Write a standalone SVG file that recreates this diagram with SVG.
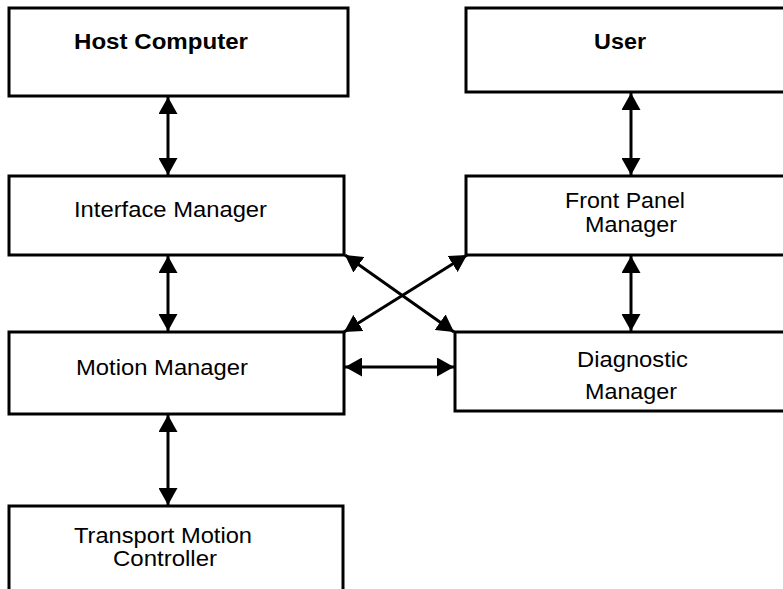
<svg xmlns="http://www.w3.org/2000/svg" width="783" height="589" viewBox="0 0 783 589">
<style>
.box{fill:#fff;stroke:#000;stroke-width:3}
.t{font-family:"Liberation Sans",Arial,sans-serif;font-size:22px;fill:#000}
.b{font-weight:bold}
.c{stroke:#000;stroke-width:3;fill:none;marker-start:url(#ah);marker-end:url(#ah)}
</style>
<defs>
<marker id="ah" viewBox="0 0 17 19" refX="17" refY="9.5" markerWidth="17" markerHeight="19" markerUnits="userSpaceOnUse" orient="auto-start-reverse">
<path d="M0,0 L17,9.5 L0,19 z" fill="#000"/>
</marker>
</defs>
<rect width="783" height="589" fill="#fff"/>
<g id="host"><rect class="box" x="9" y="8" width="339" height="88"/><text class="t b" x="74" y="49" textLength="174" lengthAdjust="spacingAndGlyphs">Host Computer</text></g>
<g id="user"><rect class="box" x="466" y="8" width="330" height="84"/><text class="t b" x="594" y="49" textLength="52" lengthAdjust="spacingAndGlyphs">User</text></g>
<g id="interface"><rect class="box" x="9" y="176" width="335" height="79"/><text class="t" x="74" y="217" textLength="193" lengthAdjust="spacingAndGlyphs">Interface Manager</text></g>
<g id="frontpanel"><rect class="box" x="466" y="176" width="330" height="79"/><text class="t" x="565" y="208" textLength="120" lengthAdjust="spacingAndGlyphs">Front Panel</text><text class="t" x="585" y="232" textLength="92" lengthAdjust="spacingAndGlyphs">Manager</text></g>
<g id="motion"><rect class="box" x="9" y="332" width="335" height="82"/><text class="t" x="76" y="375" textLength="172" lengthAdjust="spacingAndGlyphs">Motion Manager</text></g>
<g id="diagnostic"><rect class="box" x="455" y="332" width="340" height="79"/><text class="t" x="577" y="367" textLength="111" lengthAdjust="spacingAndGlyphs">Diagnostic</text><text class="t" x="585" y="399" textLength="92" lengthAdjust="spacingAndGlyphs">Manager</text></g>
<g id="transport"><rect class="box" x="9" y="506" width="334" height="90"/><text class="t" x="74" y="543" textLength="178" lengthAdjust="spacingAndGlyphs">Transport Motion</text><text class="t" x="113" y="566" textLength="104" lengthAdjust="spacingAndGlyphs">Controller</text></g>
<g id="connectors">
<line class="c" x1="168" y1="97" x2="168" y2="175"/>
<line class="c" x1="631" y1="93" x2="631" y2="175"/>
<line class="c" x1="168" y1="256" x2="168" y2="331"/>
<line class="c" x1="631" y1="256" x2="631" y2="331"/>
<line class="c" x1="168" y1="415" x2="168" y2="505"/>
<line class="c" x1="345" y1="367" x2="454" y2="367"/>
<line class="c" x1="345" y1="255" x2="454" y2="332"/>
<line class="c" x1="467" y1="255" x2="344" y2="332"/>
</g>
</svg>
